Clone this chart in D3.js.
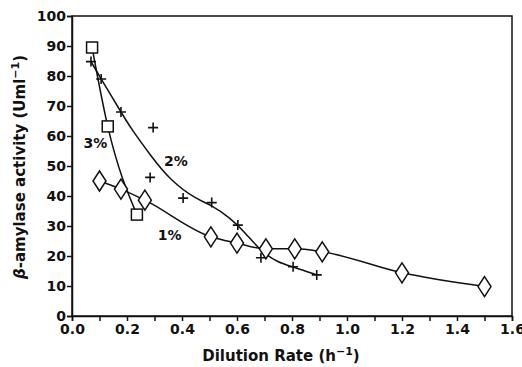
<!DOCTYPE html>
<html>
<head>
<meta charset="utf-8">
<script src="https://cdn.jsdelivr.net/npm/d3@7"></script>
<style>
  body { margin: 0; background: #fff; }
  svg text { font-family: "DejaVu Sans", sans-serif; font-weight: bold; fill: #111; }
</style>
</head>
<body>
<script>
// 3% starch (squares)
const d3pct = [0.073, 0.13, 0.236]
const a3pct = [89.5, 63.2, 33.8]
// 2% starch (crosses)
const d2pct = [0.069, 0.106, 0.178, 0.295, 0.284, 0.404, 0.508, 0.603, 0.687, 0.804, 0.89]
const a2pct = [84.8, 79, 68, 62.8, 46.2, 39.3, 37.8, 30.3, 19.4, 16.4, 13.7]
// hand-drawn trend line through the 2% data
const fit2x = [0.069, 0.106, 0.178, 0.211, 0.284, 0.356, 0.455, 0.508, 0.575, 0.628, 0.687, 0.75, 0.804, 0.89]
const fit2y = [84.8, 79, 68, 63, 53.7, 45.3, 38.7, 37, 32.7, 28, 21.5, 17.8, 16.4, 13.7]
// 1% starch (diamonds)
const d1pct = [0.10, 0.178, 0.265, 0.505, 0.60, 0.705, 0.81, 0.91, 1.2, 1.5]
const a1pct = [45, 42.3, 38.6, 26.4, 24.3, 22.4, 22.4, 21.4, 14.4, 9.8]

const xTicks = d3.range(0, 17).map(i => i / 10)
const yTicks = d3.range(0, 11).map(i => i * 10)

const W = 522, H = 367
const margin = {top: 16, right: 10, bottom: 51, left: 72}
const width = W - margin.left - margin.right,
      height = H - margin.top - margin.bottom

const svg = d3.select('body').append('svg')
    .attr('width', W).attr('height', H)

const g = svg.append('g')
    .attr('transform', 'translate(' + margin.left + ',' + margin.top + ')')

const x = d3.scaleLinear().domain([0, 1.6]).range([0, width])
const y = d3.scaleLinear().domain([0, 100]).range([height, 0])

// frame
g.append('rect')
    .attr('width', width).attr('height', height)
    .attr('fill', 'none').attr('stroke', '#111').attr('stroke-width', 1.5)

const xAxis = g.append('g')
    .attr('transform', 'translate(0,' + height + ')')
    .call(d3.axisBottom(x).tickValues(xTicks).tickSize(5).tickPadding(3)
        .tickFormat((d, i) => i % 2 ? '' : d3.format('.1f')(d)))
const yAxis = g.append('g')
    .call(d3.axisLeft(y).tickValues(yTicks).tickSize(5).tickPadding(1))

for (const ax of [xAxis, yAxis]) {
  ax.select('.domain').attr('stroke', '#111').attr('stroke-width', 1.5)
  ax.selectAll('.tick line').attr('stroke', '#111').attr('stroke-width', 1.5)
  ax.selectAll('text').style('font-size', '14px').attr('fill', '#111')
    .style('font-family', '"DejaVu Sans", sans-serif').style('font-weight', 'bold')
}

const line = d3.line().x(d => x(d[0])).y(d => y(d[1]))

// lines
g.append('path')
    .datum(d3.zip(d3pct, a3pct))
    .attr('d', line.curve(d3.curveMonotoneX))
    .attr('fill', 'none').attr('stroke', '#111').attr('stroke-width', 1.5)
g.append('path')
    .datum(d3.zip(fit2x, fit2y))
    .attr('d', line.curve(d3.curveBasis))
    .attr('fill', 'none').attr('stroke', '#111').attr('stroke-width', 1.5)
g.append('path')
    .datum(d3.zip(d1pct, a1pct))
    .attr('d', line.curve(d3.curveMonotoneX))
    .attr('fill', 'none').attr('stroke', '#111').attr('stroke-width', 1.5)

// markers
g.selectAll('.cross').data(d3.zip(d2pct, a2pct)).join('path')
    .attr('class', 'cross')
    .attr('transform', d => 'translate(' + x(d[0]) + ',' + y(d[1]) + ')')
    .attr('d', 'M-5,0H5M0,-5V5')
    .attr('stroke', '#111').attr('stroke-width', 1.6)

g.selectAll('.dia').data(d3.zip(d1pct, a1pct)).join('path')
    .attr('class', 'dia')
    .attr('transform', d => 'translate(' + x(d[0]) + ',' + y(d[1]) + ')')
    .attr('d', 'M0,-10L6.5,0L0,10L-6.5,0Z')
    .attr('fill', '#fff').attr('stroke', '#111').attr('stroke-width', 1.5)

g.selectAll('.sq').data(d3.zip(d3pct, a3pct)).join('rect')
    .attr('class', 'sq')
    .attr('x', d => x(d[0]) - 5.5).attr('y', d => y(d[1]) - 5.5)
    .attr('width', 11).attr('height', 11)
    .attr('fill', '#fff').attr('stroke', '#111').attr('stroke-width', 1.5)

// series labels
const labels = [['3%', 0.085, 56], ['2%', 0.378, 50], ['1%', 0.355, 25.5]]
g.selectAll('.lab').data(labels).join('text')
    .attr('x', d => x(d[1])).attr('y', d => y(d[2]))
    .attr('text-anchor', 'middle')
    .style('font-size', '14px')
    .text(d => d[0])

// axis titles
const xt = svg.append('text')
    .attr('x', 281).attr('y', 361)
    .attr('text-anchor', 'middle')
    .style('font-size', '15px')
xt.append('tspan').text('Dilution Rate (h')
xt.append('tspan').text('\u22121').attr('dy', -6).style('font-size', '11px')
xt.append('tspan').text(')').attr('dy', 6)

const yt = svg.append('text')
    .attr('transform', 'translate(25,167) rotate(-90)')
    .attr('text-anchor', 'middle')
    .style('font-size', '15px')
yt.append('tspan').text('\u03b2').style('font-style', 'italic')
yt.append('tspan').text('-amylase activity (Uml')
yt.append('tspan').text('\u22121').attr('dy', -6).style('font-size', '11px')
yt.append('tspan').text(')').attr('dy', 6)
</script>
</body>
</html>
